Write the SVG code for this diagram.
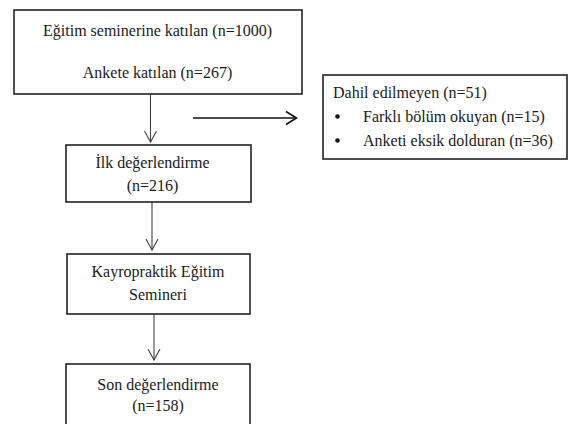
<svg xmlns="http://www.w3.org/2000/svg" width="569" height="424" viewBox="0 0 569 424">
<style>
.box{fill:#fff;stroke:#222;stroke-width:1.6}
.t{font-family:'Liberation Serif','DejaVu Serif',serif;font-size:16px;fill:#1a1a1a}
.c{text-anchor:middle}
.ln{stroke:#444;stroke-width:1.1;fill:none}
.hd{stroke:#444;stroke-width:1.1;fill:none}
.ar{stroke:#111;stroke-width:1.6;fill:none}
</style>
<rect width="569" height="424" fill="#fff"/>
<g id="connectors">
<line class="ln" x1="150.5" y1="94" x2="150.5" y2="142"/>
<polyline class="hd" points="144.5,131 150.5,142 156.5,131"/>
<line class="ln" x1="152" y1="202" x2="152" y2="250"/>
<polyline class="hd" points="146,239 152,250 158,239"/>
<line class="ln" x1="154" y1="314" x2="154" y2="360"/>
<polyline class="hd" points="148,349 154,360 160,349"/>
<line class="ar" x1="193" y1="118" x2="296" y2="118"/>
<polyline class="ar" points="286,111.5 296.5,118 286,124.5"/>
</g>
<g id="n1">
<rect class="box" x="14" y="10" width="288" height="84"/>
<text class="t c" x="157.5" y="36">Eğitim seminerine katılan (n=1000)</text>
<text class="t c" x="157.5" y="78">Ankete katılan (n=267)</text>
</g>
<g id="n2">
<rect class="box" x="66" y="145" width="185" height="57"/>
<text class="t c" x="152.5" y="168">İlk değerlendirme</text>
<text class="t c" x="152.5" y="191">(n=216)</text>
</g>
<g id="n3">
<rect class="box" x="67" y="254" width="183" height="60"/>
<text class="t c" x="158" y="277">Kayropraktik Eğitim</text>
<text class="t c" x="158" y="300">Semineri</text>
</g>
<g id="n4">
<rect class="box" x="66" y="364" width="184" height="70"/>
<text class="t c" x="158" y="390">Son değerlendirme</text>
<text class="t c" x="158" y="411">(n=158)</text>
</g>
<g id="n5">
<rect class="box" x="323" y="75" width="244" height="84"/>
<text class="t" x="333" y="98">Dahil edilmeyen (n=51)</text>
<circle cx="337.5" cy="116.5" r="2.3" fill="#111"/>
<text class="t" x="363" y="122">Farklı bölüm okuyan (n=15)</text>
<circle cx="337.5" cy="140.5" r="2.3" fill="#111"/>
<text class="t" x="363" y="146">Anketi eksik dolduran (n=36)</text>
</g>
</svg>
